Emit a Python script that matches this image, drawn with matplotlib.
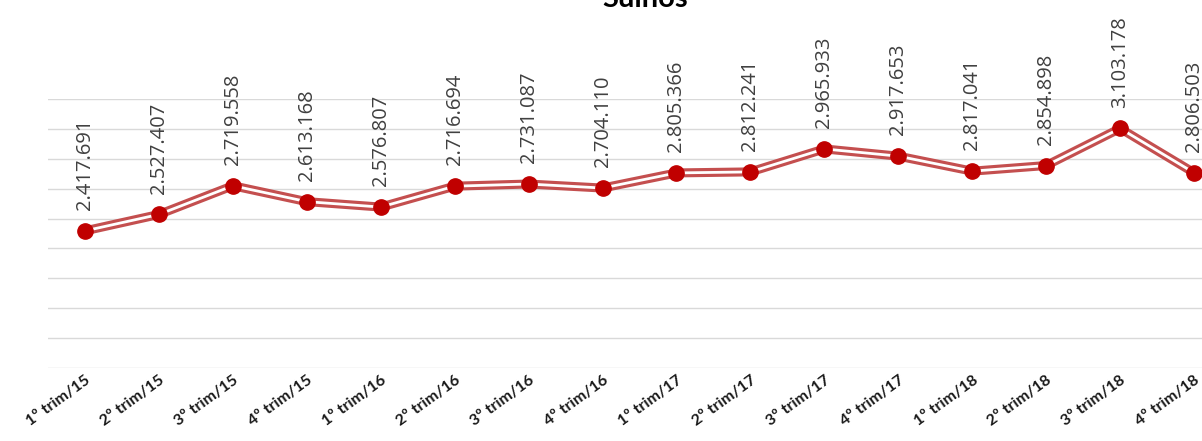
import matplotlib.pyplot as plt
import numpy as np

quarters = ["1º trim/15", "2º trim/15", "3º trim/15", "4º trim/15",
            "1º trim/16", "2º trim/16", "3º trim/16", "4º trim/16",
            "1º trim/17", "2º trim/17", "3º trim/17", "4º trim/17",
            "1º trim/18", "2º trim/18", "3º trim/18", "4º trim/18"]
heads = [2417691, 2527407, 2719558, 2613168,
         2576807, 2716694, 2731087, 2704110,
         2805366, 2812241, 2965933, 2917653,
         2817041, 2854898, 3103178, 2806503]


def br_thousands(v):
    return f"{v:,}".replace(",", ".")


def main():
    x = np.arange(len(quarters))
    fig = plt.figure(figsize=(12.02, 4.41), dpi=100)
    # plot area runs past the right edge, the last category sits at the border
    ax = fig.add_axes([48 / 1202, 1 - 368 / 441, 1183 / 1202, 269 / 441])

    ax.set_xlim(-0.5, len(quarters) - 0.5)
    ax.set_ylim(1_500_000, 3_300_000)
    ax.set_yticks(np.arange(1_500_000, 3_300_001, 200_000))
    ax.yaxis.grid(True, color="#d9d9d9", linewidth=1.0)
    ax.set_axisbelow(True)
    ax.tick_params(axis="y", left=False, labelleft=False)
    ax.tick_params(axis="x", length=0, pad=4)
    for s in ax.spines.values():
        s.set_visible(False)

    # double line: red stroke with a white core, then the markers
    ax.plot(x, heads, color="#c44f4f", linewidth=6.5, solid_capstyle="round", zorder=3)
    ax.plot(x, heads, color="white", linewidth=2.0, zorder=4)
    ax.plot(x, heads, linestyle="none", marker="o", markersize=11,
            color="#c00000", zorder=5)

    for xi, v in zip(x, heads):
        ax.annotate(br_thousands(v), (xi, v), xytext=(0, 15), textcoords="offset points",
                    rotation=90, ha="center", va="bottom", fontsize=14.5,
                    family="Open Sans", color="#404040", annotation_clip=False)

    ax.set_xticks(x)
    ax.set_xticklabels(quarters, rotation=36, ha="right", va="top",
                       rotation_mode="anchor", fontsize=11.5,
                       fontweight="bold", family="Lato", color="#1a1a1a")

    fig.text(645 / 1202, 1 - 7 / 441, "Suínos", ha="center", va="baseline",
             fontsize=21, fontweight="bold", family="Lato", color="#000000")

    fig.savefig("out.png", dpi=100)


if __name__ == "__main__":
    main()
